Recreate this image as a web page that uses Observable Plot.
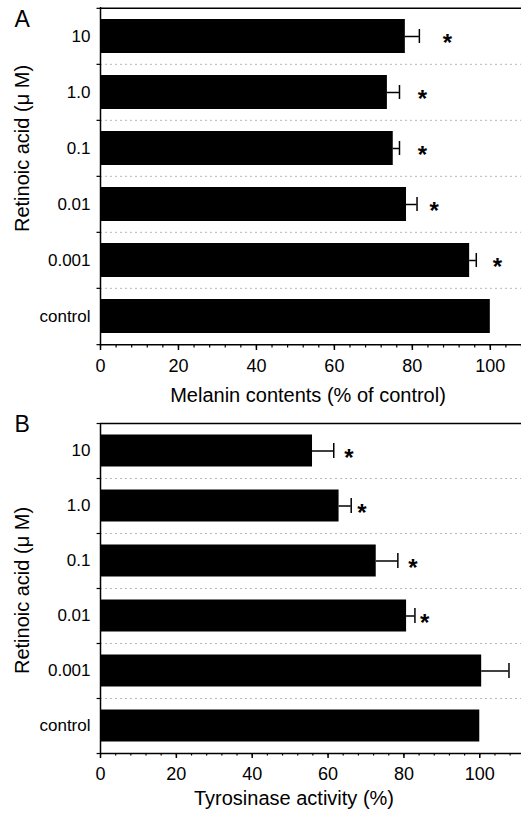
<!DOCTYPE html>
<html>
<head>
<meta charset="utf-8">
<script src="https://cdn.jsdelivr.net/npm/d3@7"></script>
<script src="https://cdn.jsdelivr.net/npm/@observablehq/plot@0.6"></script>
<style>
  body { margin: 0; background: #fff; }
  #chart svg { display: block; }
</style>
</head>
<body>
<div id="chart"></div>
<script>
// ---- data ----
const categories = ["10", "1.0", "0.1", "0.01", "0.001", "control"];

const melanin      = [78.2, 73.6, 75.1, 78.5, 94.7, 100];
const melaninErr   = [3.6, 3.1, 1.6, 2.7, 1.7, 0];
const melaninStar  = [89.0, 82.6, 82.6, 85.6, 101.8, null];

const tyrosinase     = [55.9, 62.9, 72.7, 80.7, 100.5, 100];
const tyrosinaseErr  = [5.6, 3.2, 5.7, 2.2, 7.2, 0];
const tyrosinaseStar = [65.5, 68.9, 82.4, 85.5, null, null];

const majorTicks = [0, 20, 40, 60, 80, 100];
const yTitle = "Retinoic acid (μ M)";

const FONT = "Liberation Sans, Arial, Helvetica, sans-serif";

function panel(cfg) {
  const rows = categories.map((c, i) => ({
    cat: c, value: cfg.values[i], err: cfg.errs[i], star: cfg.stars[i]
  }));
  const n = categories.length;
  const bw = (cfg.height - cfg.marginTop - cfg.marginBottom) / n;
  const minorTicks = d3.range(0, cfg.xMax + 0.001, 4);

  return Plot.plot({
    width: 521,
    height: cfg.height,
    marginTop: cfg.marginTop,
    marginBottom: cfg.marginBottom,
    marginLeft: 100,
    marginRight: 0,
    style: {fontFamily: FONT, background: "#fff", color: "#000", overflow: "visible"},
    x: {domain: [0, cfg.xMax], label: null},
    y: {domain: categories, padding: 0, label: null},
    marks: [
      // dotted separators between groups
      Plot.ruleY(categories.slice(1), {y: d => d, dy: -bw / 2, stroke: "#b8b8b8", strokeWidth: 1, strokeDasharray: "2,3"}),
      // top frame line
      Plot.ruleY([categories[0]], {y: d => d, dy: -bw / 2, stroke: "#000", strokeWidth: 1.5}),
      // bottom axis line
      Plot.ruleY([categories[n - 1]], {y: d => d, dy: bw / 2, stroke: "#000", strokeWidth: 1.5}),
      // small left ticks at group boundaries
      Plot.ruleY(categories, {y: d => d, dy: -bw / 2, x1: -0.9, x2: 0, stroke: "#000", strokeWidth: 1.2}),
      Plot.ruleY([categories[n - 1]], {y: d => d, dy: bw / 2, x1: -0.9, x2: 0, stroke: "#000", strokeWidth: 1.2}),
      // bars
      Plot.barX(rows, {x: "value", y: "cat", fill: "#000", insetTop: cfg.barInset, insetBottom: cfg.barInset}),
      // error bars
      Plot.ruleY(rows.filter(d => d.err > 0), {y: "cat", x1: "value", x2: d => d.value + d.err, stroke: "#000", strokeWidth: 1.5}),
      Plot.tickX(rows.filter(d => d.err > 0), {x: d => d.value + d.err, y: "cat", stroke: "#000", strokeWidth: 1.5, insetTop: cfg.capInset, insetBottom: cfg.capInset}),
      // significance asterisks
      Plot.text(rows.filter(d => d.star != null), {x: "star", y: "cat", text: () => "*", fontSize: 24, fontWeight: "bold", dy: 7, fill: "#000"}),
      // left axis line
      Plot.ruleX([0], {stroke: "#000", strokeWidth: 1.5}),
      // axes
      Plot.axisY({tickSize: 0, tickPadding: 10, fontSize: 17, label: null, fill: "#000"}),
      Plot.axisX({ticks: minorTicks, tickSize: 2.5, tickFormat: () => "", label: null, strokeWidth: 1.2}),
      Plot.axisX({ticks: majorTicks, tickSize: 5, tickPadding: 9, fontSize: 18, label: null, strokeWidth: 1.5, fill: "#000"}),
      // axis titles
      Plot.text([cfg.xLabel], {frameAnchor: "bottom", dx: cfg.xLabelDx, dy: cfg.xLabelDy, fontSize: 20, lineAnchor: "middle", textAnchor: "middle", fill: "#000"}),
      Plot.text([yTitle], {frameAnchor: "left", rotate: -90, dx: -78, dy: cfg.yLabelDy, fontSize: 20, lineAnchor: "middle", textAnchor: "middle", fill: "#000"}),
      // panel letter
      Plot.text([cfg.letter], {frameAnchor: "top-left", dx: -86, dy: cfg.letterDy, fontSize: 23, lineAnchor: "top", textAnchor: "start", fill: "#000"})
    ]
  });
}

const chart = document.getElementById("chart");
chart.append(panel({
  letter: "A", values: melanin, errs: melaninErr, stars: melaninStar,
  xLabel: "Melanin contents (% of control)",
  height: 405, marginTop: 7, marginBottom: 60, xMax: 108,
  barInset: 11, capInset: 21, letterDy: 3, yLabelDy: -28, xLabelDx: -3, xLabelDy: 50
}));
chart.append(panel({
  letter: "B", values: tyrosinase, errs: tyrosinaseErr, stars: tyrosinaseStar,
  xLabel: "Tyrosinase activity (%)",
  height: 409, marginTop: 18, marginBottom: 61, xMax: 111,
  barInset: 11.5, capInset: 20, letterDy: -8, yLabelDy: 2, xLabelDx: -17, xLabelDy: 45
}));
</script>
</body>
</html>
